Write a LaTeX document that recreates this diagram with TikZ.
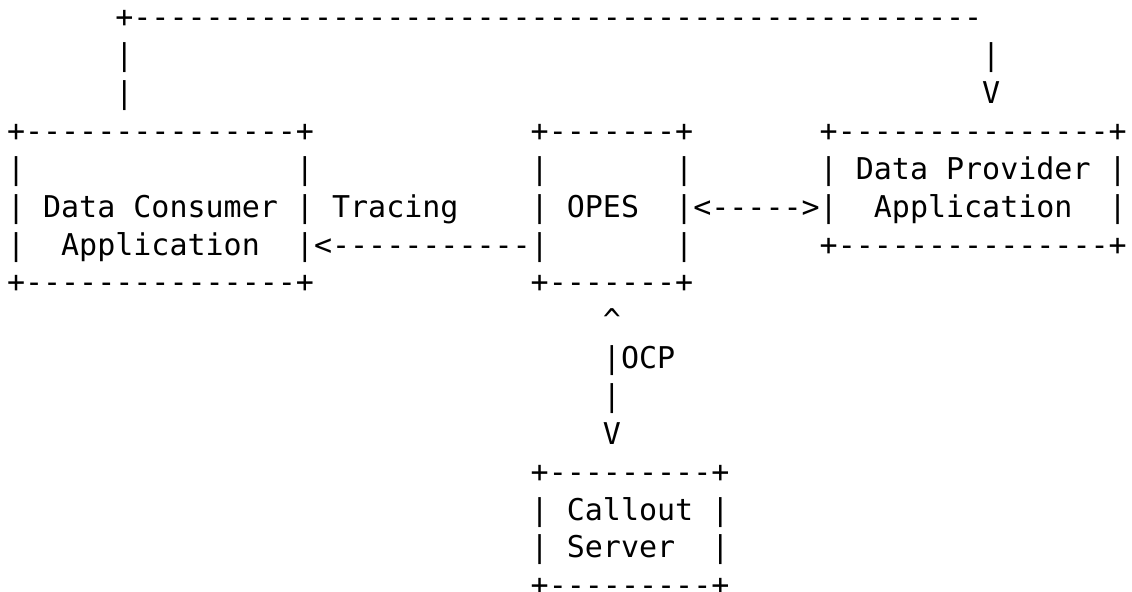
\documentclass[tikz,border=0pt]{standalone}
\usepackage{fontspec}
\setmonofont{DejaVu Sans Mono}
\begin{document}
\begin{tikzpicture}[x=0.5pt, y=-0.5pt, font=\ttfamily\fontsize{15pt}{18pt}\selectfont, line join=round, line cap=round]
			\def\cw{18.06} \def\lh{37.85} % column width, line height
			\def\xo{7} \def\yo{28} % left edge of column 0, baseline of line 0
			\tikzset{ascii/.style={anchor=base west, inner sep=0pt, outer sep=0pt}}
			
			\useasboundingbox (0,0) rectangle (1132,592);
			
			% name / line / column / text
			\foreach \n/\r/\c/\t in {
				loop/0/6/{+-----------------------------------------------},
				loopL1/1/6/{|}, loopR1/1/54/{|},
				loopL2/2/6/{|}, loopR2/2/54/{V},
				consTop/3/0/{+---------------+}, opesTop/3/29/{+-------+}, provTop/3/45/{+---------------+},
				consL4/4/0/{|}, consR4/4/16/{|}, opesL4/4/29/{|}, opesR4/4/37/{|}, provName/4/45/{| Data Provider |},
				consName/5/0/{| Data Consumer |}, tracing/5/18/{Tracing}, opesL5/5/29/{|}, opes/5/31/{OPES},
				provLink/5/37/{|<----->|}, provApp/5/48/{Application}, provR5/5/61/{|},
				consL6/6/0/{|}, consApp/6/3/{Application}, traceLink/6/16/{|<-----------|}, opesR6/6/37/{|},
				provBot/6/45/{+---------------+},
				consBot/7/0/{+---------------+}, opesBot/7/29/{+-------+},
				ocpUp/8/33/{\textasciicircum}, ocp/9/33/{|OCP}, ocpMid/10/33/{|}, ocpDown/11/33/{V},
				callTop/12/29/{+---------+}, callName/13/29/{| Callout |},
				callL14/14/29/{| Server}, callR14/14/39/{|}, callBot/15/29/{+---------+}}
				\node[ascii] (\n) at ({\xo+\c*\cw},{\yo+\r*\lh}) {\t};
			
		\end{tikzpicture}
\end{document}
